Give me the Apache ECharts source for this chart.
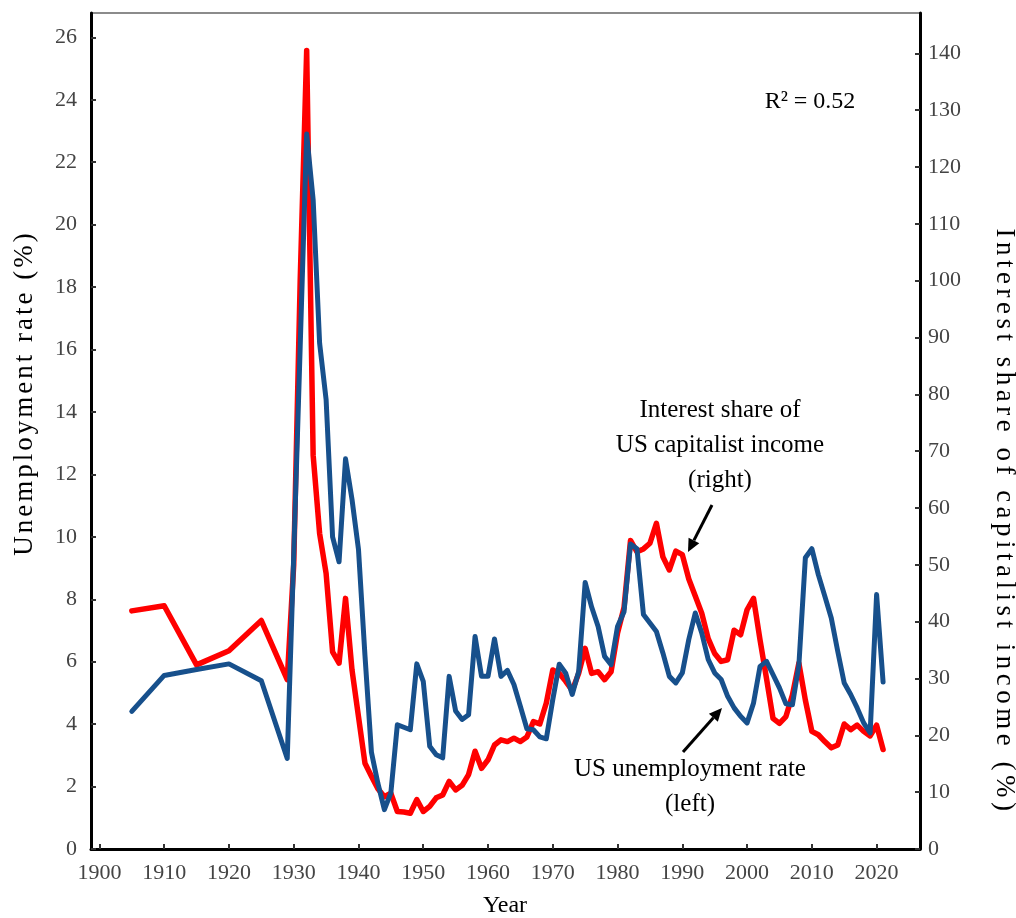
<!DOCTYPE html>
<html>
<head>
<meta charset="utf-8">
<script src="https://cdn.jsdelivr.net/npm/echarts@6/dist/echarts.min.js"></script>
<style>
html,body{margin:0;padding:0;background:#fff;}
#chart{width:1016px;height:918px;}
</style>
</head>
<body>
<div id="chart"></div>
<script>
// ---- data ----
const years = [1905,1910,1915,1920,1925,1929,1930,1931,1932,1933,1934,1935,1936,1937,1938,1939,1940,1941,1942,1943,1944,1945,1946,1947,1948,1949,1950,1951,1952,1953,1954,1955,1956,1957,1958,1959,1960,1961,1962,1963,1964,1965,1966,1967,1968,1969,1970,1971,1972,1973,1974,1975,1976,1977,1978,1979,1980,1981,1982,1983,1984,1985,1986,1987,1988,1989,1990,1991,1992,1993,1994,1995,1996,1997,1998,1999,2000,2001,2002,2003,2004,2005,2006,2007,2008,2009,2010,2011,2012,2013,2014,2015,2016,2017,2018,2019,2020,2021];

// US unemployment rate (%), left axis
const unemployment = [4.41,5.56,5.75,5.93,5.39,2.9,9.4,16.1,22.9,20.8,16.2,14.4,10.0,9.2,12.5,11.2,9.6,6.2,3.1,2.1,1.26,1.8,3.98,3.9,3.82,5.93,5.37,3.29,3.02,2.92,5.53,4.42,4.15,4.3,6.81,5.53,5.53,6.73,5.53,5.72,5.27,4.57,3.85,3.82,3.59,3.53,4.79,5.92,5.63,4.95,5.69,8.54,7.75,7.13,6.17,5.9,7.13,7.6,9.77,9.62,7.51,7.24,6.97,6.28,5.53,5.32,5.64,6.71,7.56,6.92,6.07,5.64,5.43,4.89,4.52,4.25,4.04,4.68,5.85,6.01,5.59,5.16,4.65,4.62,5.9,9.33,9.62,8.79,8.1,7.4,6.33,5.32,4.95,4.52,4.04,3.72,8.15,5.35];

// Interest share of US capitalist income (%), right axis
const interestShare = [41.9,42.8,32.4,34.9,40.2,29.8,50,100,140.5,69.3,55.5,48.5,34.7,32.7,44.1,31.5,23.3,15.1,12.8,10.6,9.2,9.8,6.6,6.5,6.3,8.7,6.6,7.5,9.0,9.5,11.9,10.4,11.2,13.1,17.2,14.2,15.7,18.3,19.2,18.9,19.5,18.9,19.7,22.4,22.0,25.7,31.5,30.9,29.5,27.9,30.9,35.3,30.9,31.2,29.8,31.2,38.0,42.5,54.3,52.3,52.8,53.8,57.3,51.4,49.1,52.4,51.8,47.5,44.5,41.5,37.0,34.4,33.0,33.3,38.5,37.7,42.1,44.1,36.8,30.0,23.0,22.1,23.3,27.1,32.7,26.2,20.7,20.1,18.9,17.8,18.3,22.0,21.0,21.8,20.7,19.9,21.8,17.5];

// tick labels
const xTicks = [1900,1910,1920,1930,1940,1950,1960,1970,1980,1990,2000,2010,2020];
const leftTicks = [0,2,4,6,8,10,12,14,16,18,20,22,24,26];
const rightTicks = [0,10,20,30,40,50,60,70,80,90,100,110,120,130,140];

const leftTitle = 'Unemployment rate (%)';
const rightTitle = 'Interest share of capitalist income (%)';

const FONT = 'Liberation Serif';

// expanded character spacing for the two axis titles only (as in the reference)
(function(){
  const P = CanvasRenderingContext2D.prototype;
  if (!('letterSpacing' in P)) return;
  const spaced = {};
  spaced[leftTitle] = '3px';
  spaced[rightTitle] = '4.5px';
  const orig = P.fillText;
  P.fillText = function(t, x, y, w){
    const ls = spaced[t] || '0px';
    if (this.letterSpacing !== ls) {
      this.letterSpacing = ls;
      const f = this.font; this.font = f;
    }
    return w === undefined ? orig.call(this, t, x, y) : orig.call(this, t, x, y, w);
  };
})();

const chart = echarts.init(document.getElementById('chart'), null, {renderer:'canvas'});

function arrow(x1, y1, x2, y2) {
  const ang = Math.atan2(y2 - y1, x2 - x1);
  const L = 13, W = 6;
  const bx = x2 - L * Math.cos(ang), by = y2 - L * Math.sin(ang);
  const px = -Math.sin(ang) * W, py = Math.cos(ang) * W;
  return [
    {type:'line', shape:{x1:x1, y1:y1, x2:bx, y2:by}, style:{stroke:'#000', lineWidth:3}, z:20},
    {type:'polygon', shape:{points:[[x2,y2],[bx+px,by+py],[bx-px,by-py]]}, style:{fill:'#000'}, z:20}
  ];
}

const axisTick = {show:true, inside:true, length:5, lineStyle:{color:'#333', width:2}};

const option = {
  backgroundColor:'#fff',
  animation:false,
  grid:{left:91, right:96, top:13, bottom:69, show:true, borderColor:'#666', borderWidth:1.5, containLabel:false},
  xAxis:{
    type:'value', min:1898.7, max:2026.7,
    axisLine:{show:true, onZero:false, lineStyle:{color:'#000', width:3}},
    axisTick:Object.assign({customValues:xTicks}, axisTick),
    axisLabel:{customValues:xTicks, color:'#444', fontFamily:FONT, fontSize:22, margin:13, formatter:v=>String(v)},
    splitLine:{show:false}
  },
  yAxis:[{
    type:'value', position:'left', min:0, max:26.78,
    axisLine:{show:true, lineStyle:{color:'#000', width:3}},
    axisTick:Object.assign({customValues:leftTicks}, axisTick),
    axisLabel:{customValues:leftTicks, color:'#444', fontFamily:FONT, fontSize:22, margin:14, formatter:v=>String(v)},
    splitLine:{show:false}
  },{
    type:'value', position:'right', min:0, max:147.1,
    axisLine:{show:true, lineStyle:{color:'#000', width:3}},
    axisTick:Object.assign({customValues:rightTicks}, axisTick),
    axisLabel:{customValues:rightTicks, color:'#444', fontFamily:FONT, fontSize:22, margin:8, formatter:v=>String(v)},
    splitLine:{show:false}
  }],
  series:[{
    name:'Interest share of US capitalist income', type:'line', yAxisIndex:1,
    data:years.map((y,i)=>[y, interestShare[i]]),
    showSymbol:false, symbol:'none',
    lineStyle:{color:'#ff0000', width:5.5, join:'round', cap:'round'},
    z:2
  },{
    name:'US unemployment rate', type:'line', yAxisIndex:0,
    data:years.map((y,i)=>[y, unemployment[i]]),
    showSymbol:false, symbol:'none',
    lineStyle:{color:'#17508c', width:5, join:'round', cap:'round'},
    z:3
  }],
  graphic:[
    {type:'text', x:505, y:906, style:{text:'Year', align:'center', verticalAlign:'middle', font:'24px "Liberation Serif"', fill:'#000'}},
    {type:'text', x:25, y:393, rotation:Math.PI/2, style:{text:leftTitle, align:'center', verticalAlign:'middle', font:'27px "Liberation Serif"', fill:'#000'}},
    {type:'text', x:1004, y:522, rotation:-Math.PI/2, style:{text:rightTitle, align:'center', verticalAlign:'middle', font:'27px "Liberation Serif"', fill:'#000'}},
    {type:'text', x:810, y:102, style:{text:'R\u00B2 = 0.52', align:'center', verticalAlign:'middle', font:'24px "Liberation Serif"', fill:'#000'}},
    {type:'text', x:720, y:445, style:{text:'Interest share of\nUS capitalist income\n(right)', align:'center', verticalAlign:'middle', lineHeight:35, font:'25px "Liberation Serif"', fill:'#000'}},
    {type:'text', x:690, y:787, style:{text:'US unemployment rate\n(left)', align:'center', verticalAlign:'middle', lineHeight:35, font:'25px "Liberation Serif"', fill:'#000'}}
  ].concat(arrow(712,505,688,552)).concat(arrow(683,752,722,708))
};
chart.setOption(option);
</script>
</body>
</html>
